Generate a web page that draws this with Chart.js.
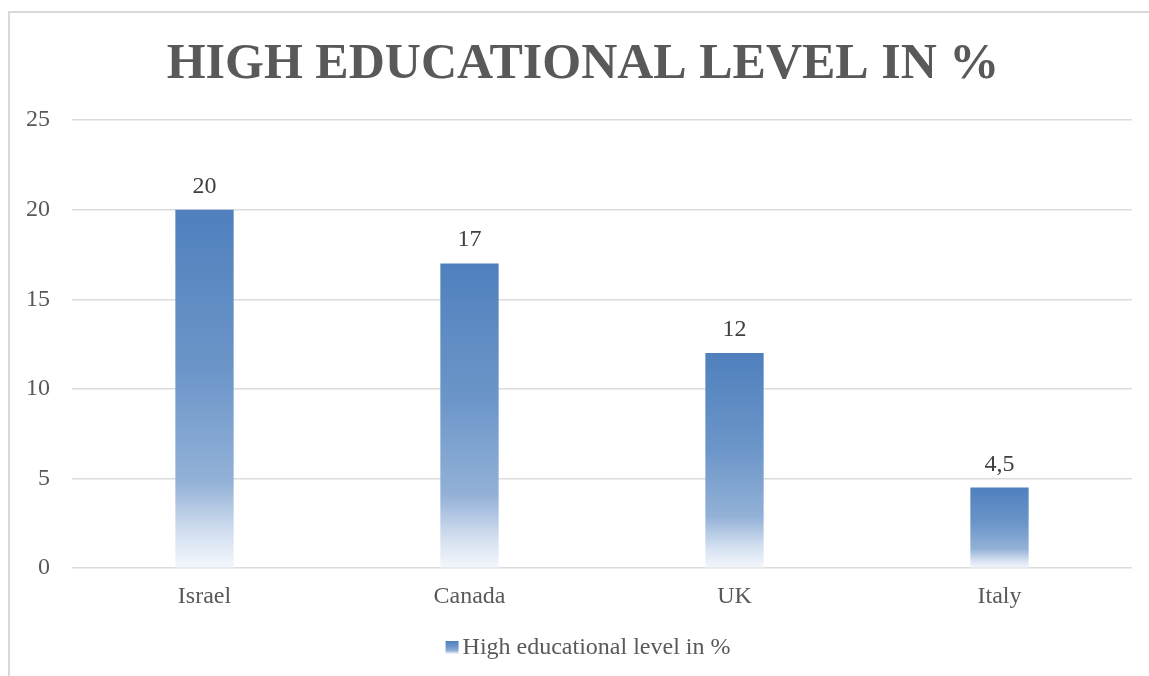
<!DOCTYPE html>
<html>
<head>
<meta charset="utf-8">
<script src="https://cdn.jsdelivr.net/npm/chart.js@4.4.0/dist/chart.umd.min.js"></script>
<style>
  html, body { margin: 0; padding: 0; background: #fff; overflow: hidden; }
  #frame {
    position: absolute; left: 8px; top: 11px; width: 1200px; height: 700px;
    border: 2px solid #d9d9d9; box-sizing: border-box;
  }
  #wrap { position: absolute; left: 0; top: 0; width: 1149px; height: 676px; }
</style>
</head>
<body>
<div id="frame"></div>
<div id="wrap"><canvas id="chart"></canvas></div>
<script>
const countries = ["Israel", "Canada", "UK", "Italy"];
const educationValues = [20, 17, 12, 4.5];
const yTicks = [0, 5, 10, 15, 20, 25];
const chartTitle = "HIGH EDUCATIONAL LEVEL IN %";
const seriesName = "High educational level in %";

const serif = "'Liberation Serif', 'Times New Roman', serif";

function fadeStops(g) {
  g.addColorStop(0, "#4f80bd");
  g.addColorStop(0.45, "#6c96c9");
  g.addColorStop(0.76, "#93b1d7");
  g.addColorStop(0.9, "#d3dff0");
  g.addColorStop(1, "#f4f7fc");
  return g;
}

// vertical fade per bar, dark on top, almost white at the base
function barGradient(context) {
  const chart = context.chart;
  const value = context.parsed ? context.parsed.y : undefined;
  if (value === undefined || !chart.chartArea) return "#6f97c9";
  const yScale = chart.scales.y;
  const top = yScale.getPixelForValue(value);
  const base = yScale.getPixelForValue(0);
  return fadeStops(chart.ctx.createLinearGradient(0, top, 0, base));
}

// value labels, title and legend drawn by hand so they sit like the Excel original
const decorations = {
  id: "decorations",
  afterDatasetsDraw(chart) {
    const ctx = chart.ctx;
    const meta = chart.getDatasetMeta(0);
    ctx.save();
    ctx.font = "24px " + serif;
    ctx.fillStyle = "#404040";
    ctx.textAlign = "center";
    ctx.textBaseline = "alphabetic";
    meta.data.forEach((bar, i) => {
      const txt = String(educationValues[i]).replace(".", ",");
      ctx.fillText(txt, bar.x, bar.y - 17);
    });

    // title
    ctx.font = "bold 50px " + serif;
    ctx.fillStyle = "#595959";
    ctx.fillText(chartTitle, 583, 78);

    // legend
    ctx.font = "24px " + serif;
    const tw = ctx.measureText(seriesName).width;
    const box = 13, gap = 4;
    const left = 588 - (box + gap + tw) / 2;
    const cy = 648;
    ctx.fillStyle = fadeStops(ctx.createLinearGradient(0, cy - 7, 0, cy + 6));
    ctx.fillRect(left, cy - 7, box, box);
    ctx.fillStyle = "#595959";
    ctx.textAlign = "left";
    ctx.textBaseline = "middle";
    ctx.fillText(seriesName, left + box + gap, cy);
    ctx.restore();
  }
};

new Chart(document.getElementById("chart"), {
  type: "bar",
  data: {
    labels: countries,
    datasets: [{
      label: seriesName,
      data: educationValues,
      backgroundColor: barGradient,
      borderWidth: 0,
      barPercentage: 0.22,
      categoryPercentage: 1
    }]
  },
  options: {
    responsive: true,
    maintainAspectRatio: false,
    animation: false,
    layout: { padding: { left: 0, right: 17, top: 120, bottom: 59 } },
    plugins: {
      title: { display: false },
      legend: { display: false },
      tooltip: { enabled: false }
    },
    scales: {
      x: {
        grid: { display: false },
        border: { display: false },
        ticks: { color: "#595959", font: { family: serif, size: 24 }, padding: 6 }
      },
      y: {
        min: 0,
        max: 25,
        afterFit: (scale) => { scale.width = 72; },
        afterBuildTicks: (scale) => { scale.ticks = yTicks.map(v => ({ value: v })); },
        grid: { color: "#dcdcdc", lineWidth: 1.5, drawTicks: false },
        border: { display: false },
        ticks: { color: "#595959", font: { family: serif, size: 24 }, padding: 22 }
      }
    }
  },
  plugins: [decorations]
});
</script>
</body>
</html>
